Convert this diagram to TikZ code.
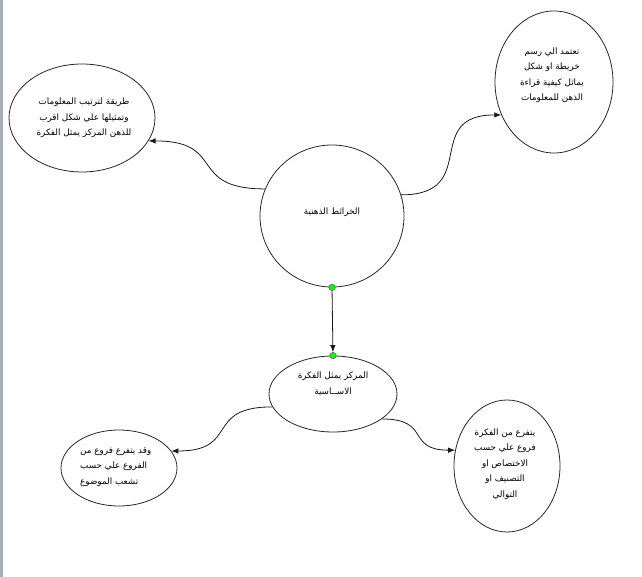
\documentclass[tikz,border=0pt]{standalone}
\usepackage{fontspec}
\newfontfamily\arabicfont[Script=Arabic]{DejaVu Sans}
\TeXXeTstate=1
\usetikzlibrary{shapes.geometric}
\usetikzlibrary{arrows.meta}
\definecolor{edgegray}{RGB}{166,173,181}
\newcommand{\ar}[1]{\beginR #1\endR}

\begin{document}
\begin{tikzpicture}[
    x=1pt, y=-1pt,
    bubble/.style={draw=black!85,ellipse,line width=0.8pt,inner sep=0pt},
    words/.style={font=\arabicfont\fontsize{8.8}{15.5}\selectfont,align=center,inner sep=0pt},
    dot/.style={draw=black!70,circle,fill=green,inner sep=0pt,minimum size=6.5pt},
    link/.style={-{Latex[length=7pt,width=5.5pt]},line width=0.8pt,black!90,looseness=1.6}
    ]
    \useasboundingbox (0,0) rectangle (642,577);
    \fill[edgegray] (0,0) rectangle (2.5,577);

    % ellipses
    \node[bubble, minimum width=144pt, minimum height=142pt] (maps) at (332,216) {};
    \node[bubble, minimum width=146pt, minimum height=108pt] (def) at (82,118) {};
    \node[bubble, minimum width=118pt, minimum height=142pt] (method) at (554,82) {};
    \node[bubble, minimum width=128pt, minimum height=76pt] (core) at (333,394) {};
    \node[bubble, minimum width=116pt, minimum height=76pt] (topic) at (119,468) {};
    \node[bubble, minimum width=106pt, minimum height=132pt] (branch) at (507,466) {};

    % texts
    \node[words] (maps-txt) at (332,212) {\ar{الخرائط الذهنية}};
    \node[words] (def-txt) at (84,118) {\ar{طريقة لترتيب المعلومات}\\\ar{وتمثيلها علي شكل اقرب}\\\ar{للذهن المركز يمثل الفكرة}};
    \node[words] (method-txt) at (552,75) {\ar{تعتمد الي رسم}\\\ar{خريطة او شكل}\\\ar{يماثل كيفية قراءة}\\\ar{الذهن للمعلومات}};
    \node[words] (core-txt) at (333,384) {\ar{المركز يمثل الفكرة}\\\ar{الاســاسية}};
    \node[words, align=left, anchor=west] (topic-txt) at (80,467) {\ar{وقد يتفرع فروع من}\\\ar{الفروع علي حسب}\\\ar{تشعب الموضوع}};
    \node[words] (branch-txt) at (505,464) {\ar{يتفرع من الفكرة}\\\ar{فروع علي حسب}\\\ar{الاختصاص او}\\\ar{التصنيف او}\\\ar{التوالي}};

    % green handles
    \node[dot] (maps-dot) at (maps.south) {};
    \node[dot] (core-dot) at (core.north) {};

    % connectors
    \draw[link] (maps.158) to[out=180,in=0] (def.-19);
    \draw[link] (maps.17) to[out=0,in=180] (method.212);
    \draw[link] (maps-dot) -- (core-dot);
    \draw[link] (core.192) to[out=180,in=0] (topic.18);
    \draw[link] (core.333) to[out=0,in=180] (branch.163);

  \end{tikzpicture}
\end{document}
